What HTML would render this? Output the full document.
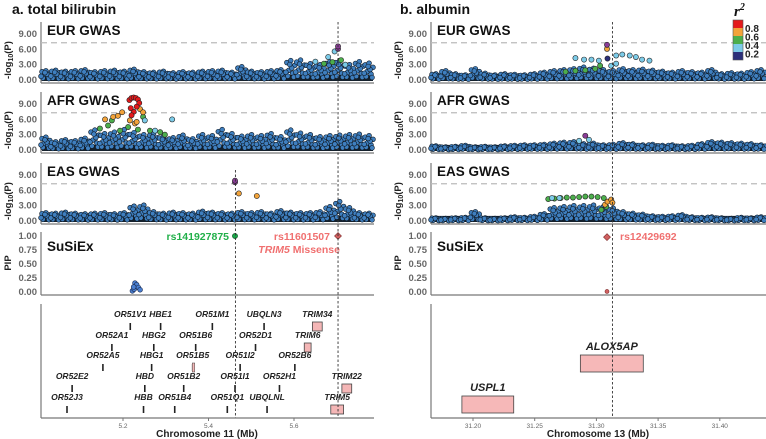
<!DOCTYPE html>
<html><head><meta charset="utf-8"><style>
html,body{margin:0;padding:0;background:#fff}
svg{display:block;font-family:"Liberation Sans",sans-serif}
.tk{font-size:9.5px;font-weight:bold;fill:#666;text-anchor:end}
.pt{font-size:13.5px;font-weight:bold;fill:#111}
.gl{font-size:8.5px;font-weight:bold;font-style:italic;fill:#222;text-anchor:middle}
.xt{font-size:6.5px;fill:#666;text-anchor:middle}
</style></head><body>
<svg id="fig" width="766" height="439" viewBox="0 0 766 439"></svg>
<script>
// ---------- data ----------
const leftEnvEUR=[1.8,1.9,1.7,1.8,2.0,1.6,1.8,1.9,1.7,2.1,1.6,1.5,1.7,1.4,1.6,1.5,1.7,1.8,1.9,1.5,2.6,1.7,1.6,1.8,2.0,3.8,3.9,3.2,3.0,3.6,3.8,3.0,3.6,3.3];
const leftEnvAFR=[2.5,1.6,2.0,1.8,2.3,3.9,3.2,3.5,4.0,3.4,3.0,3.2,2.6,2.4,2.9,2.2,3.0,2.8,4.0,3.2,2.7,3.0,2.8,3.2,2.6,3.9,3.3,3.0,2.6,2.8,2.9,3.0,3.1,2.8];
const leftEnvEAS=[1.6,1.5,1.7,1.5,1.4,1.5,1.6,1.4,1.6,2.9,3.1,1.8,1.5,1.7,1.6,1.5,1.9,1.7,1.6,1.5,1.8,1.6,1.8,1.5,2.0,1.7,1.6,1.6,1.8,2.8,3.8,2.6,1.6,1.5];
const rightEnvEUR=[1.2,1.8,1.2,1.0,2.2,1.3,1.0,1.2,1.1,1.0,1.2,1.5,1.8,2.0,2.2,2.5,2.3,2.0,1.8,2.2,2.0,2.1,1.9,1.7,1.5,1.8,1.6,1.5,2.0,1.2,1.4,1.3,1.6,2.0];
const rightEnvAFR=[0.8,0.6,0.7,0.9,0.6,0.7,0.6,0.8,0.9,1.0,1.0,1.1,1.3,1.5,1.6,1.2,1.3,1.0,1.1,1.4,1.2,1.0,1.1,0.9,1.0,0.8,0.9,1.2,1.6,1.5,1.4,1.3,1.2,1.0];
const rightEnvEAS=[0.6,0.5,0.6,0.7,1.8,0.6,0.5,0.6,0.8,0.7,0.9,1.4,2.6,2.8,3.0,3.0,3.1,2.8,2.5,1.8,1.5,1.3,1.0,0.9,1.0,1.2,0.8,0.7,0.8,0.6,0.5,0.7,0.6,0.8];
const leftColEUR=[[5.695,5.6,'lb'],[5.68,4.5,'lb'],[5.69,3.5,'g'],[5.71,3.9,'g'],[5.67,3.2,'g'],[5.72,3.0,'lb'],[5.65,3.6,'lb'],[5.703,6.1,'p'],[5.703,6.6,'p']];
const leftColAFR=[[5.146,4.2,'g'],[5.165,4.8,'g'],[5.174,5.8,'g'],[5.193,3.8,'g'],[5.212,4.5,'g'],[5.235,4.0,'g'],[5.247,6.5,'g'],[5.263,3.8,'g'],[5.287,3.5,'g'],[5.298,3.0,'g'],[5.251,5.8,'lb'],[5.315,6.0,'lb'],[5.275,3.8,'lb'],[5.158,6.0,'o'],[5.177,6.5,'o'],[5.188,6.7,'o'],[5.198,7.4,'o'],[5.216,5.8,'o'],[5.228,5.2,'o'],[5.232,5.5,'o'],[5.24,8.0,'o'],[5.247,7.4,'o'],[5.215,9.8,'r'],[5.22,10.2,'r'],[5.225,10.3,'r'],[5.23,10.2,'r'],[5.235,9.9,'r'],[5.238,9.2,'r'],[5.232,8.5,'r'],[5.225,7.5,'r'],[5.22,6.8,'r'],[5.218,8.2,'r']];
const leftColEAS=[[5.471,5.4,'o'],[5.513,4.9,'o'],[5.462,7.6,'p'],[5.462,7.9,'p']];
const rightColEUR=[[31.275,1.6,'g'],[31.283,1.8,'g'],[31.291,1.9,'g'],[31.299,2.2,'g'],[31.303,2.8,'g'],[31.283,4.3,'lb'],[31.29,4.0,'lb'],[31.296,4.0,'lb'],[31.302,3.8,'lb'],[31.316,4.8,'lb'],[31.316,3.2,'lb'],[31.312,2.8,'lb'],[31.321,5.0,'lb'],[31.327,4.8,'lb'],[31.332,4.5,'lb'],[31.337,4.0,'lb'],[31.343,3.8,'lb'],[31.309,4.2,'n'],[31.3086,6.1,'o'],[31.3086,6.9,'p']];
const rightColAFR=[[31.294,2.0,'lb'],[31.286,1.8,'lb'],[31.291,2.8,'p']];
const rightColEAS=[[31.261,4.3,'g'],[31.266,4.4,'g'],[31.271,4.5,'g'],[31.276,4.6,'g'],[31.281,4.6,'g'],[31.286,4.7,'g'],[31.291,4.8,'g'],[31.296,4.8,'g'],[31.301,4.7,'g'],[31.306,4.5,'g'],[31.264,4.5,'lb'],[31.27,4.5,'lb'],[31.304,2.2,'g'],[31.308,2.8,'g'],[31.307,3.2,'o'],[31.309,3.8,'o'],[31.312,4.2,'o'],[31.313,3.6,'o']];
const leftGenes=[["OR51V1",5.217,0],["HBE1",5.288,0],["OR51M1",5.409,0],["UBQLN3",5.530,0],["OR52A1",5.174,1],["HBG2",5.272,1],["OR51B6",5.370,1],["OR52D1",5.510,1],["OR52A5",5.153,2],["HBG1",5.267,2],["OR51B5",5.363,2],["OR51I2",5.474,2],["OR52B6",5.602,2],["OR52E2",5.081,3],["HBD",5.251,3],["OR51B2",5.342,3],["OR51I1",5.462,3],["OR52H1",5.566,3],["OR52J3",5.069,4],["HBB",5.248,4],["OR51B4",5.321,4],["OR51Q1",5.444,4],["UBQLNL",5.537,4]];
const leftBoxGenes=[["TRIM34",5.643,5.666,0],["TRIM6",5.624,5.640,1],["TRIM22",5.712,5.735,3],["TRIM5",5.686,5.716,4]];
const rightGenes=[["ALOX5AP",31.287,31.338,355],["USPL1",31.191,31.233,396]];
const yTicks=[0,3,6,9];
const pipTicks=[0,0.25,0.5,0.75,1];
const leftXTicks=[5.2,5.4,5.6];
const rightXTicks=[31.20,31.25,31.30,31.35,31.40];
// ---------- helpers ----------
const NS="http://www.w3.org/2000/svg";
const svg=document.getElementById('fig');
function mk(tag,attrs,parent){const e=document.createElementNS(NS,tag);for(const k in attrs)e.setAttribute(k,attrs[k]);(parent||svg).appendChild(e);return e;}
const COL={r:'#e41a1c',o:'#f2a33a',g:'#4cae4c',lb:'#7ccbe8',n:'#2b2f7a',p:'#8a3c96'};
const xL=mb=>123+(mb-5.2)*427.5;
const xR=mb=>473+(mb-31.2)*1234;
const bases=[80,150,221];
const tops=[22,92,163];
const yS=(b,v)=>b-v*5.1;
const jitter=[[0.1,0.9],[0.3,0.5],[0.5,1],[0.7,0.35],[0.9,0.75],[0.2,0.2],[0.6,0.62],[0.8,0.15],[0.4,0.8],[0.0,0.4]];
function panel(side,i,env,cols,label,name){
  const X0=side?431:41, X1=side?766:374, b=bases[i], xf=side?xR:xL;
  const g=mk('g',{});
  
  
  mk('line',{x1:X0,y1:tops[i],x2:X0,y2:b+3,stroke:'#777','stroke-width':1.2},g);
  mk('line',{x1:X0,y1:b+3,x2:X1,y2:b+3,stroke:'#777','stroke-width':1.2},g);
  mk('line',{x1:X0,y1:yS(b,7.3),x2:X1,y2:yS(b,7.3),stroke:'#bbb','stroke-width':1.2,'stroke-dasharray':'6,4'},g);
  yTicks.forEach(t=>{const tx=mk('text',{x:X0-4,y:yS(b,t)+3,class:'tk'},g);tx.textContent=t.toFixed(2);});
  const yt=mk('text',{x:0,y:0,transform:`translate(${X0-30},${b-20}) rotate(-90)`,'font-size':'9.5','font-weight':'bold',fill:'#222','text-anchor':'middle'},g);
  yt.innerHTML='-log<tspan font-size="7" dy="2">10</tspan><tspan dy="-2">(P)</tspan>';
  mk('rect',{x:X0+1,y:yS(b,1.0),width:X1-X0-2,height:yS(b,0)-yS(b,1.0)+1,fill:'#14202c'},g);
  const step=(X1-X0)/env.length;
  env.forEach((h,k)=>{
    jitter.forEach(([f,s])=>{
      const c=mk('circle',{cx:X0+step*(k+f),cy:yS(b,h*s),r:2.4,fill:'#3f7fbf',stroke:'#0f1a26','stroke-width':0.6},g);
      
      
    });
  });
  cols.forEach(([mb,v,c])=>{
    const e=mk('circle',{cx:xf(mb),cy:yS(b,v),r:2.6,fill:COL[c],stroke:'#222','stroke-width':0.6},g);
    
    
  });
  const t=mk('text',{x:X0+6,y:tops[i]+13,class:'pt'},g);t.textContent=label;
}
// titles
let t=mk('text',{x:12,y:14,'font-size':'14','font-weight':'bold',fill:'#111'});t.textContent='a. total bilirubin';

t=mk('text',{x:400,y:14,'font-size':'14','font-weight':'bold',fill:'#111'});t.textContent='b. albumin';

panel(0,0,leftEnvEUR,leftColEUR,'EUR GWAS','left-eur-gwas');
panel(0,1,leftEnvAFR,leftColAFR,'AFR GWAS','left-afr-gwas');
panel(0,2,leftEnvEAS,leftColEAS,'EAS GWAS','left-eas-gwas');
panel(1,0,rightEnvEUR,rightColEUR,'EUR GWAS','right-eur-gwas');
panel(1,1,rightEnvAFR,rightColAFR,'AFR GWAS','right-afr-gwas');
panel(1,2,rightEnvEAS,rightColEAS,'EAS GWAS','right-eas-gwas');
// PIP panels
const pipY=v=>292-v*56;
function pip(side,name){
  const X0=side?431:41,X1=side?766:374;
  const g=mk('g',{});
  mk('line',{x1:X0,y1:232,x2:X0,y2:295,stroke:'#777','stroke-width':1.2},g);
  mk('line',{x1:X0,y1:295,x2:X1,y2:295,stroke:'#777','stroke-width':1.2},g);
  pipTicks.forEach(v=>{const tx=mk('text',{x:X0-4,y:pipY(v)+3,class:'tk'},g);tx.textContent=v.toFixed(2);});
  const yt=mk('text',{x:0,y:0,transform:`translate(${X0-30},263) rotate(-90)`,'font-size':'9.5','font-weight':'bold',fill:'#222','text-anchor':'middle'},g);yt.textContent='PIP';
  const s=mk('text',{x:X0+6,y:251,class:'pt'},g);s.textContent='SuSiEx';
  return g;
}
let gp=pip(0,'left-pip-panel');
[[5.222,0.02],[5.226,0.05],[5.23,0.1],[5.228,0.16],[5.232,0.13],[5.236,0.08],[5.24,0.04],[5.225,0.09]].forEach(([m,v])=>{const c=mk('circle',{cx:xL(m),cy:pipY(v),r:2.4,fill:'#4a7fd0',stroke:'#1a2a50','stroke-width':0.6},gp);});
let c=mk('circle',{cx:235,cy:pipY(1),r:2.6,fill:'#1aa84a',stroke:'#0a5020','stroke-width':0.6},gp);
c=mk('path',{d:`M338 ${pipY(1)-3.5}l3.5 3.5l-3.5 3.5l-3.5 -3.5z`,fill:'#d06060',stroke:'#803030','stroke-width':0.6},gp);
t=mk('text',{x:229,y:240,'font-size':'10.5','font-weight':'bold',fill:'#22b04a','text-anchor':'end'},gp);t.textContent='rs141927875';
t=mk('text',{x:330,y:240,'font-size':'10.5','font-weight':'bold',fill:'#f07070','text-anchor':'end'},gp);t.textContent='rs11601507';
t=mk('text',{x:340,y:253,'font-size':'10.5','font-weight':'bold',fill:'#f07070','text-anchor':'end'},gp);t.innerHTML='<tspan font-style="italic">TRIM5</tspan> Missense';
gp=pip(1,'right-pip-panel');
c=mk('path',{d:`M607 ${pipY(0.98)-3.5}l3.5 3.5l-3.5 3.5l-3.5 -3.5z`,fill:'#d06060',stroke:'#803030','stroke-width':0.6},gp);
c=mk('circle',{cx:607,cy:pipY(0.01),r:2,fill:'#d06060',stroke:'#803030','stroke-width':0.6},gp);
t=mk('text',{x:620,y:240,'font-size':'10.5','font-weight':'bold',fill:'#f07070'},gp);t.textContent='rs12429692';
// gene panels
function genePanel(side,name){
  const X0=side?431:41,X1=side?766:374;
  const g=mk('g',{});
  mk('line',{x1:X0,y1:304,x2:X0,y2:418,stroke:'#777','stroke-width':1.2},g);
  mk('line',{x1:X0,y1:418,x2:X1,y2:418,stroke:'#777','stroke-width':1.2},g);
  (side?rightXTicks:leftXTicks).forEach(v=>{const xx=(side?xR:xL)(v);mk('line',{x1:xx,y1:418,x2:xx,y2:421,stroke:'#777'},g);const tx=mk('text',{x:xx,y:428,class:'xt'},g);tx.textContent=side?v.toFixed(2):v.toFixed(1);});
  const xl=mk('text',{x:side?598:207,y:437,'font-size':'10','font-weight':'bold',fill:'#222','text-anchor':'middle'},g);xl.textContent=side?'Chromosome 13 (Mb)':'Chromosome 11 (Mb)';
  return g;
}
const rowLab=[317,338,358,379,400];
let gg=genePanel(0,'left-gene-track');
leftGenes.forEach(([n,m,r])=>{const x=xL(m);const tx=mk('text',{x:x,y:rowLab[r],class:'gl'},gg);tx.textContent=n;mk('line',{x1:x,y1:rowLab[r]+6,x2:x,y2:rowLab[r]+13,stroke:'#222','stroke-width':1.6},gg);});
leftBoxGenes.forEach(([n,a,b2,r])=>{const x=xL(a),w=xL(b2)-x;const tx=mk('text',{x:x+w/2,y:rowLab[r],class:'gl'},gg);tx.textContent=n;mk('rect',{x:x,y:rowLab[r]+5,width:w,height:9,fill:'#f4b6b6',stroke:'#444','stroke-width':0.8},gg);});
mk('rect',{x:xL(5.362),y:rowLab[2]+5,width:2.5,height:9,fill:'#f4b6b6',stroke:'#444','stroke-width':0.5},gg);
gg=genePanel(1,'right-gene-track');
rightGenes.forEach(([n,a,b2,y])=>{const x=xR(a),w=xR(b2)-x;mk('rect',{x:x,y:y,width:w,height:17,fill:'#f6b8b8',stroke:'#444','stroke-width':0.8},gg);const tx=mk('text',{x:x+w/2,y:y-5,'font-size':'11','font-weight':'bold','font-style':'italic',fill:'#222','text-anchor':'middle'},gg);tx.textContent=n;});
// vertical dashed lines
[[xL(5.463),170,418],[xL(5.703),22,418],[xR(31.313),22,418]].forEach(([x,a,b2])=>{const l=mk('line',{x1:x,y1:a,x2:x,y2:b2,stroke:'#333','stroke-width':0.9,'stroke-dasharray':'2.5,2'});});
// legend
const lg=mk('g',{});
t=mk('text',{x:734,y:16,'font-size':'15','font-weight':'bold','font-style':'italic','font-family':'Liberation Serif',fill:'#111'},lg);t.innerHTML='r<tspan font-size="10" dy="-6">2</tspan>';
['#e41a1c','#f2a33a','#4cae4c','#7ccbe8','#2b2f7a'].forEach((cc,k)=>mk('rect',{x:733,y:20+k*8,width:10,height:8,fill:cc},lg));
mk('rect',{x:733,y:20,width:10,height:40,fill:'none',stroke:'#555','stroke-width':0.6},lg);
['0.8','0.6','0.4','0.2'].forEach((s,k)=>{const tx=mk('text',{x:745,y:32+k*8.5,'font-size':'10','font-weight':'bold',fill:'#222'},lg);tx.textContent=s;});
</script>
</body></html>
